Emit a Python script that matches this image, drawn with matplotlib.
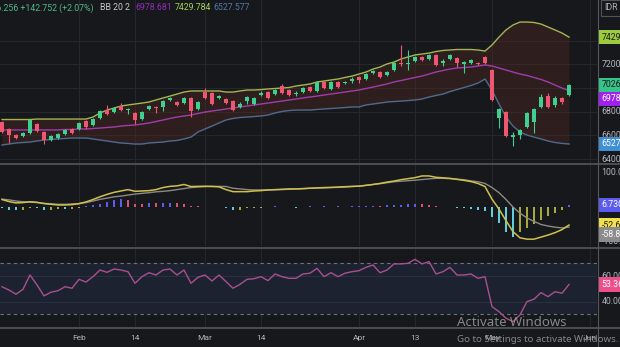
import numpy as np
import matplotlib
matplotlib.use("Agg")
import matplotlib.pyplot as plt
from matplotlib.lines import Line2D

plt.rcParams['font.family'] = ['Roboto', 'DejaVu Sans']

# daily candles (index points)
opens = [6713, 6654, 6603, 6595, 6620, 6696, 6629, 6561, 6578, 6612,
         6654, 6654, 6722, 6688, 6747, 6814, 6797, 6848, 6814, 6789,
         6738, 6823, 6840, 6840, 6899, 6882, 6873, 6916, 6823, 6966,
         6958, 6916, 6907, 6890, 6840, 6890, 6865, 6941, 6966, 6949,
         7017, 6983, 6949, 6966, 7008, 6975, 7050, 6992, 7050, 7042,
         7059, 7093, 7076, 7127, 7135, 7110, 7152, 7211, 7203, 7228,
         7262, 7245, 7279, 7211, 7245, 7253, 7203, 7211, 7211, 7262,
         7152, 6747, 6797, 6587, 6603, 6671, 6713, 6840, 6932, 6857,
         6916, 6941]
highs = [6720, 6660, 6608, 6628, 6738, 6705, 6635, 6600, 6618, 6652,
         6660, 6712, 6730, 6745, 6812, 6857, 6838, 6870, 6830, 6797,
         6805, 6855, 6848, 6897, 6924, 6890, 6924, 6924, 6890, 7000,
         6966, 6945, 6916, 6900, 6882, 6932, 6924, 6975, 6975, 6992,
         7034, 6992, 6975, 7008, 7017, 7059, 7059, 7059, 7059, 7059,
         7090, 7101, 7127, 7152, 7143, 7143, 7219, 7363, 7321, 7270,
         7270, 7287, 7287, 7245, 7287, 7262, 7228, 7245, 7219, 7270,
         7160, 6830, 6805, 6629, 6655, 6797, 6830, 6950, 6958, 6932,
         6924, 7034]
lows = [6620, 6536, 6570, 6588, 6612, 6630, 6527, 6553, 6570, 6605,
        6612, 6646, 6650, 6680, 6740, 6775, 6790, 6808, 6781, 6696,
        6730, 6815, 6789, 6806, 6890, 6848, 6865, 6755, 6815, 6907,
        6857, 6907, 6865, 6806, 6831, 6865, 6857, 6932, 6907, 6941,
        6950, 6932, 6932, 6958, 6966, 6966, 6992, 6983, 7000, 7034,
        7042, 7042, 7068, 7118, 7085, 7101, 7143, 7190, 7150, 7220,
        7228, 7236, 7186, 7186, 7236, 7177, 7127, 7203, 7194, 7203,
        6890, 6662, 6587, 6510, 6570, 6662, 6620, 6831, 6831, 6840,
        6865, 6932]
closes = [6629, 6603, 6578, 6620, 6730, 6637, 6561, 6595, 6612, 6646,
          6620, 6705, 6671, 6738, 6806, 6781, 6831, 6814, 6823, 6730,
          6797, 6848, 6831, 6890, 6916, 6857, 6916, 6806, 6882, 6916,
          6865, 6932, 6873, 6814, 6865, 6924, 6916, 6958, 6916, 6983,
          6958, 6941, 6958, 7000, 6975, 7050, 7000, 7050, 7008, 7050,
          7076, 7068, 7118, 7143, 7093, 7135, 7211, 7203, 7211, 7262,
          7236, 7279, 7194, 7228, 7279, 7211, 7219, 7236, 7203, 7211,
          6899, 6823, 6595, 6603, 6646, 6789, 6823, 6924, 6840, 6916,
          6883.5, 7026.256]

# Bollinger Bands (20, 2)
bb_upper = [6734, 6734, 6734, 6734, 6734, 6738, 6738, 6738, 6738, 6738,
            6738, 6738, 6738, 6755, 6789, 6814, 6831, 6848, 6857, 6865,
            6873, 6882, 6899, 6916, 6932, 6949, 6966, 6975, 6975, 6975,
            6975, 6975, 6966, 6966, 6975, 6983, 6983, 6987, 6992, 6996,
            7000, 7004, 7017, 7025, 7034, 7051, 7059, 7068, 7076, 7089,
            7101, 7118, 7135, 7160, 7177, 7203, 7219, 7245, 7262, 7279,
            7287, 7295, 7308, 7317, 7321, 7325, 7325, 7325, 7321, 7312,
            7363, 7430, 7490, 7532, 7557, 7557, 7553, 7540, 7515, 7490,
            7464, 7429.784]
bb_mid = [6646, 6646, 6646, 6646, 6646, 6646, 6646, 6646, 6646, 6650,
          6650, 6654, 6654, 6658, 6662, 6667, 6671, 6679, 6684, 6688,
          6696, 6705, 6717, 6730, 6743, 6755, 6764, 6772, 6785, 6797,
          6806, 6814, 6823, 6831, 6840, 6848, 6857, 6865, 6873, 6882,
          6890, 6899, 6907, 6916, 6924, 6932, 6941, 6949, 6958, 6966,
          6975, 6983, 6996, 7008, 7021, 7034, 7051, 7063, 7076, 7089,
          7101, 7118, 7135, 7148, 7160, 7169, 7173, 7177, 7186, 7194,
          7186, 7169, 7152, 7135, 7118, 7106, 7089, 7072, 7051, 7025,
          7000, 6978.681]
bb_lower = [6519, 6527, 6536, 6540, 6544, 6553, 6561, 6565, 6570, 6574,
            6578, 6578, 6578, 6570, 6561, 6553, 6544, 6536, 6532, 6527,
            6527, 6536, 6540, 6544, 6553, 6557, 6570, 6586, 6629, 6654,
            6679, 6705, 6730, 6743, 6751, 6755, 6759, 6764, 6772, 6789,
            6802, 6810, 6814, 6814, 6814, 6819, 6823, 6827, 6831, 6835,
            6840, 6840, 6857, 6865, 6873, 6882, 6886, 6890, 6894, 6899,
            6907, 6924, 6937, 6949, 6970, 6987, 7004, 7021, 7042, 7076,
            6983, 6865, 6755, 6679, 6629, 6603, 6586, 6570, 6553, 6540,
            6532, 6527.577]

# momentum oscillator: main line, signal line, histogram
osc_main = [22, 16, 12, 13, 15.5, 14, 10, 8, 6, 6,
            7, 10, 15, 22, 30, 37, 43, 47, 51, 46,
            47, 48, 51, 57, 60.5, 62, 66, 60, 60.5, 61,
            60.5, 59, 51, 45, 45, 45, 47, 48, 50, 51,
            52, 53, 53, 54, 55, 56, 57, 57.5, 58.5, 59.5,
            60.5, 61, 63.5, 66, 69, 73, 76, 80, 83, 86,
            91, 91, 87, 85.5, 84, 81, 78, 74.5, 69, 60,
            23, -6, -40, -72, -90, -94, -94, -88, -82, -75,
            -66, -52.6]
osc_signal = [23, 21, 17.5, 15.5, 14.5, 13, 11, 9.5, 8, 8,
              9, 10, 13, 17.5, 22.5, 26, 30, 32, 35, 38,
              40, 42, 44.5, 46, 48, 51, 54, 57, 58.5, 59.5,
              60, 60.5, 60, 55, 53, 51, 50, 50, 50, 50.5,
              51, 52, 53, 53.5, 55, 55.5, 56, 57, 57.5, 58.5,
              60, 61, 63.5, 66, 68.5, 71, 74, 75.5, 77, 78.5,
              80.5, 82.5, 84, 84, 83, 81.5, 80, 76.5, 74, 69,
              57, 42, 22, 0, -18, -32, -42, -51, -55.5, -59,
              -61, -58.8]
osc_hist = [-3, -8, -10, -8, -2, -4, -10, -9, -6, -6,
            -5, -3, 2, 5, 10, 15, 20, 23, 20, 10,
            8, 12, 11, 12, 13, 12, 10, 4, 2, 1.5,
            1.5, 1.5, -4, -9, -8, -4, -2, -1.5, 1.5, 2,
            1.5, 1.5, -1.5, 1.5, 2, 1.5, 2, 1.5, 2, 1.5,
            2, 2.5, 3, 4, 3, 5, 6, 7, 8, 10,
            9, 6, 3, 1.5, 1.5, -2, -4, -6, -8, -12,
            -30, -48, -72, -87, -74, -60, -49, -37, -27, -18,
            -9, 6.73]

rsi = [51.6, 49, 45.7, 49.6, 60.8, 53, 44.4, 47.3, 48.5, 51.6,
       50.4, 57.4, 55.3, 59.5, 64.7, 62.9, 65.5, 64.7, 63.4, 54.3,
       59.5, 62.6, 60.8, 64.7, 65.5, 60.8, 64.7, 54.3, 59, 60.8,
       56.1, 60.8, 55.6, 50.4, 53.5, 57.4, 57.9, 59.5, 56.4, 61.6,
       59.5, 58.2, 58.2, 61.6, 62.2, 66, 59.5, 62.6, 59.5, 62.2,
       63.4, 64.2, 66.8, 68.7, 62.6, 64.7, 69.5, 69.5, 70, 73.1,
       69.5, 71.3, 61.6, 63.4, 66.8, 60.8, 60.8, 61.6, 58.2, 59.5,
       36, 32, 26.9, 24.2, 29.5, 39.9, 41.8, 47, 43.8, 47.7,
       46.5, 53.36]

tick_pos = [11, 19, 29, 37, 51, 59, 70, 84]
tick_labels = ['Feb', '14', 'Mar', '14', 'Apr', '13', 'May', 'Jun']

bg = '#17181c'
grid_c = '#25272c'
axis_txt = '#b2b5be'
up_c = '#3fcf8e'
down_c = '#ef5670'

W, H = 620, 347
fig = plt.figure(figsize=(W / 100, H / 100), dpi=100, facecolor=bg)


def px_axes(top, bottom):
    # axes box given in pixel rows, plot area is 597 px wide
    return fig.add_axes([0, 1 - bottom / H, 597 / W, (bottom - top) / H], facecolor=bg)


ax_p = px_axes(0, 163)
ax_m = px_axes(165, 246)
ax_r = px_axes(249, 327)

x = np.arange(len(closes))
o = np.array(opens); c = np.array(closes)
hi = np.array(highs); lo = np.array(lows)

for ax in (ax_p, ax_m, ax_r):
    ax.set_xlim(-0.286, 85.0)
    for s in ax.spines.values():
        s.set_visible(False)
    ax.set_xticks([]); ax.set_yticks([])
    for t in tick_pos:
        ax.axvline(t, color=grid_c, lw=0.8, zorder=0)

# price pane
ax_p.set_ylim(6367, 7743)
for lvl in range(6400, 7600, 200):
    ax_p.axhline(lvl, color=grid_c, lw=0.8, zorder=0)
ax_p.fill_between(x, bb_lower, bb_upper, color='#5a2a20', alpha=0.35, lw=0, zorder=1)
ax_p.plot(x, bb_upper, color='#a4b552', lw=1.0, zorder=2)
ax_p.plot(x, bb_mid, color='#a23cab', lw=1.0, zorder=2)
ax_p.plot(x, bb_lower, color='#4f6a8e', lw=1.0, zorder=2)

colors = np.where(c >= o, up_c, down_c)
ax_p.vlines(x, lo, hi, colors=colors, lw=0.8, zorder=3)
body = np.maximum(np.abs(c - o), 4)
ax_p.bar(x, body, bottom=np.minimum(o, c), width=0.65, color=colors, lw=0, zorder=4)

# oscillator pane
ax_m.set_ylim(-114, 123)
hist = np.array(osc_hist)
prev = np.concatenate([[hist[0]], hist[:-1]])
hcol = []
for h, p in zip(hist, prev):
    if h >= 0:
        hcol.append('#5c5cf0' if h >= p else '#e0506a')
    else:
        hcol.append('#5fcfe0' if h <= p else '#a3aa3a')
ax_m.bar(x, hist, width=0.28, color=hcol, lw=0, zorder=2)
ax_m.plot(x, osc_signal, color='#8c8a80', lw=1.0, zorder=3)
ax_m.plot(x, osc_main, color='#cfc04e', lw=1.1, zorder=4)

# RSI pane
ax_r.set_ylim(20.0, 81.2)
ax_r.axhspan(30, 70, color='#1d2231', lw=0, zorder=0)
for lvl in (40, 60):
    ax_r.axhline(lvl, color='#2b3040', lw=0.8, zorder=1)
for lvl in (30, 70):
    ax_r.axhline(lvl, color='#6f7380', lw=0.8, ls=(0, (3, 3)), zorder=1)
ax_r.plot(x, rsi, color='#a8508f', lw=1.0, zorder=3)

for t, lab in zip(tick_pos, tick_labels):
    ax_r.text(t, -0.141, lab, transform=ax_r.get_xaxis_transform(), ha='center', va='center',
              fontsize=6, color=axis_txt, clip_on=False)


def right_label(ax, y, txt, fc=None, tc=axis_txt):
    kw = {}
    if fc is not None:
        kw['bbox'] = dict(boxstyle='square,pad=0.3', fc=fc, ec='none')
    ax.text(1.0075, y, txt, transform=ax.get_yaxis_transform(), ha='left', va='center',
            fontsize=6.3, color=tc, clip_on=False, **kw)


for lvl in (7200, 6800, 6600, 6400):
    right_label(ax_p, lvl, f'{lvl}.000')
right_label(ax_p, 7429.784, '7429.784', '#9ccc3c', '#1a1a1a')
right_label(ax_p, 7026.256, '7026.256', '#35c48a', '#1a1a1a')
# stacked below the close label so the two boxes do not cover each other
right_label(ax_p, 6978.681 - 70, '6978.681', '#a020f0', 'white')
right_label(ax_p, 6527.577, '6527.577', '#3f8fd4', 'white')

right_label(ax_m, 100, '100.00')
right_label(ax_m, -100, '-100.00')
right_label(ax_m, 6.73, '6.7300', '#5b5bf0', 'white')
right_label(ax_m, -52.6, '-52.60', '#f2e04c', '#1a1a1a')
right_label(ax_m, -80, '-58.80', '#8c8c8c', 'white')

right_label(ax_r, 60, '60.00')
right_label(ax_r, 40, '40.00')
right_label(ax_r, 53.36, '53.36', '#ec4f8a', 'white')

# header legend
hy = 1 - 8 / H
fig.text(93 / W, hy, 'C7026.256 +142.752 (+2.07%)', ha='right', va='center',
         fontsize=6.3, color='#4fb886')
fig.text(100 / W, hy, 'BB 20 2', ha='left', va='center', fontsize=6.3, color='#c8c8c8')
fig.text(135 / W, hy, '6978.681', ha='left', va='center', fontsize=6.3, color='#8e2fb5')
fig.text(175 / W, hy, '7429.784', ha='left', va='center', fontsize=6.3, color='#a8d05a')
fig.text(213 / W, hy, '6527.577', ha='left', va='center', fontsize=6.3, color='#4f79a8')
fig.text(604 / W, hy, 'IDR', ha='left', va='center', fontsize=6.3, color=axis_txt,
         bbox=dict(boxstyle='square,pad=0.35', fc=bg, ec='#50535a', lw=0.8))

# pane separators
for yy in (164, 247.5, 328):
    fig.add_artist(Line2D([0, 1], [1 - yy / H] * 2, transform=fig.transFigure,
                          color='#55575c', lw=1.2))
fig.add_artist(Line2D([597.5 / W] * 2, [0, 1], transform=fig.transFigure,
                      color='#55575c', lw=0.8))

# system watermark
fig.text(457 / W, 1 - 322 / H, 'Activate Windows', ha='left', va='center',
         fontsize=9.5, color='#9a9a9a', alpha=0.85, family='Noto Sans')
fig.text(457 / W, 1 - 339 / H, 'Go to Settings to activate Windows.', ha='left', va='center',
         fontsize=7, color='#9a9a9a', alpha=0.85, family='Noto Sans')

fig.savefig('out.png', dpi=100, facecolor=bg)
